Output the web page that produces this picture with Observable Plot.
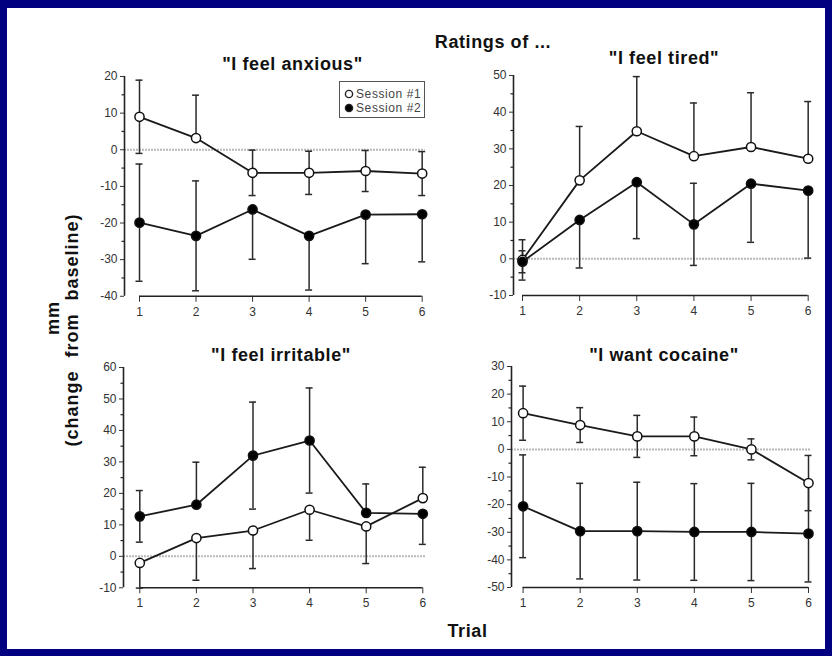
<!DOCTYPE html>
<html>
<head>
<meta charset="utf-8">
<script src="https://cdn.jsdelivr.net/npm/d3@7"></script>
<script src="https://cdn.jsdelivr.net/npm/@observablehq/plot@0.6"></script>
<style>
html, body { margin: 0; padding: 0; background: #000080; }
#page { position: relative; width: 832px; height: 656px; background: #000080; overflow: hidden;
  font-family: "Liberation Sans", Arial, Helvetica, sans-serif; }
#sheet { position: absolute; left: 7px; top: 8px; width: 818px; height: 641px; background: #ffffff; }
.title { position: absolute; font-weight: bold; font-size: 18px; line-height: 18px; letter-spacing: 0.6px;
  white-space: nowrap; transform: translateX(-50%); color: #111; }
.ylab { position: absolute; font-weight: bold; font-size: 18px; line-height: 18px; letter-spacing: 1px; word-spacing: 7px;
  white-space: nowrap; transform: translate(-50%, -50%) rotate(-90deg); color: #111; }
.panel { position: absolute; }
#legend { position: absolute; left: 339px; top: 81px; width: 84px; height: 35px; border: 1.5px solid #555; background: #fff; }
.lrow { position: absolute; left: 4px; height: 14px; font-size: 12px; line-height: 14px; color: #444; letter-spacing: 0.6px; white-space: nowrap; }
.lrow svg { vertical-align: middle; margin-right: 2px; position: relative; top: -1px; }
</style>
</head>
<body>
<div id="page">
  <div id="sheet"></div>
  <div class="title" style="left:493px; top:33px;">Ratings of ...</div>
  <div class="title" style="left:292.5px; top:55px;">"I feel anxious"</div>
  <div class="title" style="left:664px; top:49px;">"I feel tired"</div>
  <div class="title" style="left:281px; top:346px;">"I feel irritable"</div>
  <div class="title" style="left:664px; top:346px;">"I want cocaine"</div>
  <div class="title" style="left:467.5px; top:621.5px;">Trial</div>
  <div class="ylab" style="left:53px; top:318px;">mm</div>
  <div class="ylab" style="left:71.5px; top:330px;">(change from baseline)</div>
</div>
<script>
// ---------------- data ----------------
const trials = [1, 2, 3, 4, 5, 6];
const sessions = ["Session #1", "Session #2"];

const anxiousTicks = [-40, -30, -20, -10, 0, 10, 20];
const anxiousMinor = [-35, -25, -15, -5, 5, 15];
const anxiousS1 = [9, 3.2, -6.3, -6.3, -5.8, -6.5];
const anxiousS1Err = [10, 11.7, 6.2, 5.9, 5.6, 6];
const anxiousS1Bars = ["both", "up", "both", "both", "both", "both"];
const anxiousS2 = [-19.9, -23.5, -16.3, -23.5, -17.7, -17.6];
const anxiousS2Err = [16, 15, 13.6, 14.8, 13.4, 13];
const anxiousS2Bars = ["both", "both", "down", "down", "down", "down"];

const tiredTicks = [-10, 0, 10, 20, 30, 40, 50];
const tiredMinor = [-5, 5, 15, 25, 35, 45];
const tiredS1 = [-0.3, 21.4, 34.8, 28, 30.5, 27.3];
const tiredS1Err = [5.5, 14.7, 14.9, 14.5, 14.8, 15.6];
const tiredS1Bars = ["both", "up", "up", "up", "up", "up"];
const tiredS2 = [-0.8, 10.6, 20.9, 9.4, 20.5, 18.6];
const tiredS2Err = [3, 13.1, 15.4, 11.2, 16, 18.4];
const tiredS2Bars = ["both", "down", "down", "both", "down", "down"];

const irritableTicks = [-10, 0, 10, 20, 30, 40, 50, 60];
const irritableMinor = [-5, 5, 15, 25, 35, 45, 55];
const irritableS1 = [-2.1, 5.8, 8.2, 14.8, 9.5, 18.5];
const irritableS1Err = [8, 13.4, 12.1, 9.7, 11.8, 9.8];
const irritableS1Bars = ["down", "down", "down", "down", "down", "up"];
const irritableS2 = [12.7, 16.4, 32, 36.8, 13.8, 13.5];
const irritableS2Err = [8.2, 13.5, 17, 16.7, 9.2, 9.7];
const irritableS2Bars = ["both", "up", "both", "both", "up", "down"];

const cocaineTicks = [-50, -40, -30, -20, -10, 0, 10, 20, 30];
const cocaineMinor = [-45, -35, -25, -15, -5, 5, 15, 25];
const cocaineS1 = [13.1, 8.8, 4.7, 4.7, 0, -12.2];
const cocaineS1Err = [9.8, 6.3, 7.6, 7, 3.8, 10];
const cocaineS1Bars = ["both", "both", "both", "both", "both", "both"];
const cocaineS2 = [-20.6, -29.6, -29.6, -29.9, -29.9, -30.5];
const cocaineS2Err = [18.6, 17.3, 17.7, 17.5, 17.6, 17.5];
const cocaineS2Bars = ["both", "both", "both", "both", "both", "both"];

// ---------------- drawing ----------------
function panel(cfg) {
  const {series, ticks, minor, axisX, t1, t6, yTop, yBot} = cfg;
  const mL = 40, mR = 8, mT = 10, mB = 30;
  const per = (t6 - t1) / (trials.length - 1);
  const xmin = trials[0] - (t1 - axisX) / per;
  const xmax = trials[trials.length - 1];
  const ymin = ticks[0], ymax = ticks[ticks.length - 1];
  const fills = ["white", "black"];
  const rows = [];
  series.forEach(([mean, err, bars], k) => {
    trials.forEach((t, i) => {
      rows.push({
        trial: t, session: sessions[k], mean: mean[i], fill: fills[k],
        lo: bars[i] === "up" ? null : mean[i] - err[i],
        hi: bars[i] === "down" ? null : mean[i] + err[i]
      });
    });
  });
  const loRows = rows.filter(d => d.lo !== null);
  const hiRows = rows.filter(d => d.hi !== null);
  const width = mL + (t6 - axisX) + mR;
  const height = mT + (yBot - yTop) + mB;
  const barStyle = {stroke: "#2a2a2a", strokeWidth: 1.5};
  const chart = Plot.plot({
    width, height,
    marginLeft: mL, marginRight: mR, marginTop: mT, marginBottom: mB,
    x: {domain: [xmin, xmax], ticks: trials, tickSize: 6, tickPadding: 5, label: null, tickFormat: d => String(d)},
    y: {domain: [ymin, ymax], ticks: ticks, tickSize: 4, tickPadding: 3, label: null, tickFormat: d => String(d)},
    style: {fontFamily: '"Liberation Sans", Arial, sans-serif', fontSize: "12px", color: "#333", background: "transparent", overflow: "visible"},
    marks: [
      Plot.ruleY([0], {stroke: "#b8b8b8", strokeWidth: 2, strokeDasharray: "2,1", insetRight: -3}),
      Plot.ruleX([xmin], {y1: ymin, y2: ymax, stroke: "#222", strokeWidth: 1.6}),
      Plot.ruleY([ymin], {x1: trials[0], x2: xmax, stroke: "#222", strokeWidth: 1.6}),
      Plot.ruleY(minor, {x1: xmin, x2: xmin, insetLeft: -2.5, stroke: "#222", strokeWidth: 1.2}),
      Plot.ruleX(loRows, {x: "trial", y1: "lo", y2: "mean", ...barStyle}),
      Plot.ruleX(hiRows, {x: "trial", y1: "mean", y2: "hi", ...barStyle}),
      Plot.ruleY(loRows, {y: "lo", x1: "trial", x2: "trial", insetLeft: -3.5, insetRight: -3.5, ...barStyle}),
      Plot.ruleY(hiRows, {y: "hi", x1: "trial", x2: "trial", insetLeft: -3.5, insetRight: -3.5, ...barStyle}),
      Plot.line(rows, {x: "trial", y: "mean", z: "session", stroke: "#1a1a1a", strokeWidth: 1.8}),
      Plot.dot(rows, {x: "trial", y: "mean", fill: "fill", stroke: "#111", strokeWidth: 1.5, r: 4.6})
    ]
  });
  const wrap = document.createElement("div");
  wrap.className = "panel";
  wrap.style.left = (axisX - mL) + "px";
  wrap.style.top = (yTop - mT) + "px";
  wrap.appendChild(chart);
  document.getElementById("page").appendChild(wrap);
}

panel({series: [[anxiousS1, anxiousS1Err, anxiousS1Bars], [anxiousS2, anxiousS2Err, anxiousS2Bars]],
  ticks: anxiousTicks, minor: anxiousMinor, axisX: 124, t1: 139, t6: 421.7, yTop: 75.7, yBot: 295.5});
panel({series: [[tiredS1, tiredS1Err, tiredS1Bars], [tiredS2, tiredS2Err, tiredS2Bars]],
  ticks: tiredTicks, minor: tiredMinor, axisX: 513, t1: 522, t6: 807.7, yTop: 75, yBot: 295});
panel({series: [[irritableS1, irritableS1Err, irritableS1Bars], [irritableS2, irritableS2Err, irritableS2Bars]],
  ticks: irritableTicks, minor: irritableMinor, axisX: 122.7, t1: 139, t6: 422, yTop: 366.7, yBot: 587});
panel({series: [[cocaineS1, cocaineS1Err, cocaineS1Bars], [cocaineS2, cocaineS2Err, cocaineS2Bars]],
  ticks: cocaineTicks, minor: cocaineMinor, axisX: 510.7, t1: 522.3, t6: 807.7, yTop: 366, yBot: 587});

// legend
const legend = document.createElement("div");
legend.id = "legend";
sessions.forEach((s, i) => {
  const row = document.createElement("div");
  row.className = "lrow";
  row.style.top = (5 + i * 14) + "px";
  const fill = i === 0 ? "white" : "black";
  row.innerHTML = `<svg width="10" height="10"><circle cx="5" cy="5" r="3.6" fill="${fill}" stroke="#222" stroke-width="1.4"></circle></svg>${s}`;
  legend.appendChild(row);
});
document.getElementById("page").appendChild(legend);
</script>
</body>
</html>
